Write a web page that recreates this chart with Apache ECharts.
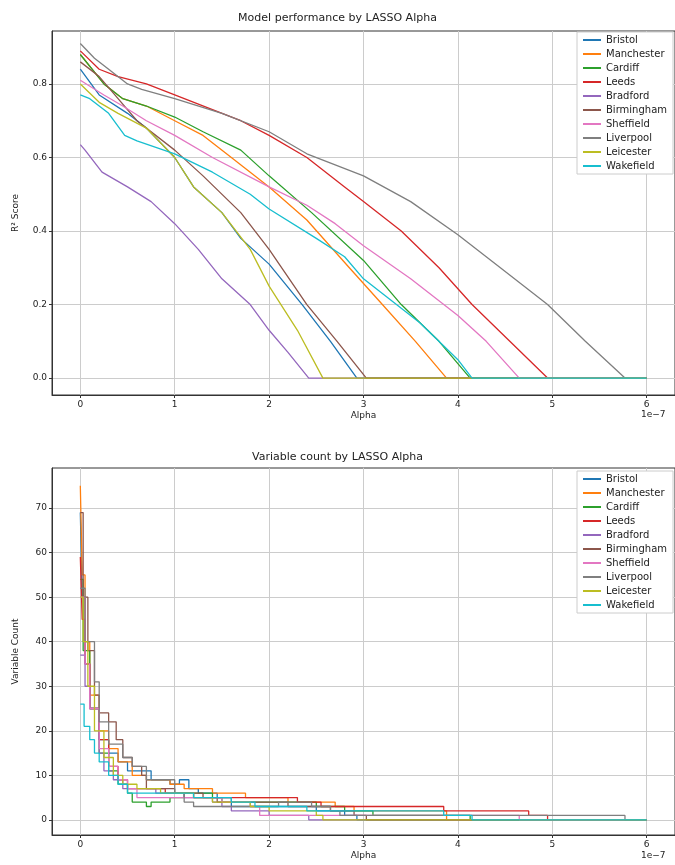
<!DOCTYPE html>
<html><head><meta charset="utf-8">
<script src="https://cdn.jsdelivr.net/npm/echarts@6/dist/echarts.min.js"></script>
<style>html,body{margin:0;padding:0;background:#fff}#c{width:675px;height:865px}</style>
</head><body><div id="c"></div>
<script>
const cities = ['Bristol','Manchester','Cardiff','Leeds','Bradford','Birmingham','Sheffield','Liverpool','Leicester','Wakefield'];
const colors = ['#1f77b4','#ff7f0e','#2ca02c','#d62728','#9467bd','#8c564b','#e377c2','#7f7f7f','#bcbd22','#17becf'];
const xTicks = [0,1,2,3,4,5,6];
const r2Ticks = [0,0.2,0.4,0.6,0.8];
const countTicks = [0,10,20,30,40,50,60,70];

// R^2 score vs alpha (alpha in units of 1e-7)
const r2Bristol = [[0,0.84],[0.2,0.77],[0.5,0.72],[0.7,0.68],[1.0,0.60],[1.2,0.52],[1.5,0.45],[1.7,0.38],[2.0,0.31],[2.35,0.2],[2.65,0.1],[2.93,0],[6,0]];
const r2Manchester = [[0,0.88],[0.25,0.80],[0.45,0.76],[0.7,0.74],[1.0,0.70],[1.3,0.66],[1.6,0.60],[2.0,0.52],[2.4,0.43],[2.85,0.30],[3.2,0.2],[3.55,0.1],[3.88,0],[6,0]];
const r2Cardiff = [[0,0.88],[0.25,0.80],[0.45,0.76],[0.7,0.74],[1.0,0.71],[1.3,0.67],[1.7,0.62],[2.0,0.55],[2.45,0.45],[3.0,0.32],[3.4,0.2],[3.8,0.1],[4.13,0],[6,0]];
const r2Leeds = [[0,0.89],[0.2,0.84],[0.4,0.82],[0.7,0.80],[1.0,0.77],[1.4,0.73],[1.7,0.70],[2.0,0.66],[2.4,0.60],[2.8,0.52],[3.0,0.48],[3.4,0.40],[3.8,0.30],[4.15,0.2],[4.55,0.1],[4.95,0],[6,0]];
const r2Bradford = [[0,0.635],[0.05,0.62],[0.23,0.56],[0.5,0.52],[0.75,0.48],[1.0,0.42],[1.25,0.35],[1.5,0.27],[1.8,0.2],[2.0,0.13],[2.2,0.07],[2.42,0],[6,0]];
const r2Birmingham = [[0,0.86],[0.2,0.82],[0.4,0.76],[0.6,0.70],[1.0,0.62],[1.3,0.55],[1.7,0.45],[2.0,0.35],[2.4,0.2],[2.72,0.1],[3.03,0],[6,0]];
const r2Sheffield = [[0,0.81],[0.25,0.77],[0.45,0.74],[0.7,0.70],[1.0,0.66],[1.4,0.60],[2.0,0.52],[2.4,0.47],[2.7,0.42],[3.0,0.36],[3.5,0.27],[4.0,0.17],[4.3,0.1],[4.65,0],[6,0]];
const r2Liverpool = [[0,0.91],[0.15,0.87],[0.3,0.84],[0.5,0.80],[0.65,0.785],[1.0,0.76],[1.5,0.72],[2.0,0.67],[2.4,0.61],[3.0,0.55],[3.5,0.48],[4.0,0.39],[4.45,0.3],[4.95,0.2],[5.35,0.1],[5.77,0],[6,0]];
const r2Leicester = [[0,0.80],[0.2,0.75],[0.4,0.72],[0.7,0.68],[1.0,0.60],[1.2,0.52],[1.5,0.45],[1.8,0.35],[2.0,0.25],[2.3,0.13],[2.57,0],[6,0]];
const r2Wakefield = [[0,0.77],[0.1,0.76],[0.3,0.72],[0.47,0.66],[0.6,0.645],[1.0,0.61],[1.4,0.56],[1.8,0.50],[2.0,0.46],[2.5,0.38],[2.8,0.33],[3.0,0.27],[3.6,0.15],[4.0,0.05],[4.15,0],[6,0]];

// Variable count vs alpha
const cntBristol = [[0,69],[0.02,50],[0.05,35],[0.1,25],[0.2,18],[0.3,15],[0.4,13],[0.5,11],[0.75,9],[0.95,8],[1.05,9],[1.15,7],[1.25,6],[1.45,5],[1.6,3],[2.0,3],[2.5,2],[2.8,1],[2.93,0],[6,0]];
const cntManchester = [[0,75],[0.02,55],[0.05,40],[0.1,28],[0.2,20],[0.3,16],[0.4,13],[0.55,10],[0.7,9],[0.95,8],[1.1,7],[1.4,6],[1.75,5],[2.2,4],[2.7,3],[2.9,2],[3.88,0],[6,0]];
const cntCardiff = [[0,54],[0.03,38],[0.1,25],[0.2,15],[0.3,11],[0.4,8],[0.5,6],[0.55,4],[0.7,3],[0.75,4],[0.95,5],[1.1,6],[1.4,5],[1.5,4],[2.5,3],[2.8,2],[3.1,1],[4.13,0],[6,0]];
const cntLeeds = [[0,59],[0.02,45],[0.05,35],[0.1,25],[0.2,18],[0.3,12],[0.4,9],[0.5,7],[0.9,6],[1.2,5],[2.3,4],[2.55,3],[3.85,2],[4.75,1],[4.95,0],[6,0]];
const cntBradford = [[0,37],[0.05,30],[0.1,25],[0.2,15],[0.25,11],[0.35,9],[0.45,7],[0.8,6],[1.1,5],[1.4,4],[1.5,3],[1.6,2],[2.0,1],[2.42,0],[6,0]];
const cntBirmingham = [[0,69],[0.03,50],[0.08,38],[0.15,28],[0.2,24],[0.3,22],[0.38,18],[0.45,14],[0.55,12],[0.65,10],[0.7,7],[1.0,6],[1.3,5],[1.45,4],[2.2,3],[2.65,2],[2.9,1],[3.03,0],[6,0]];
const cntSheffield = [[0,50],[0.05,35],[0.1,25],[0.2,16],[0.3,12],[0.4,9],[0.5,7],[0.6,5],[1.5,4],[1.8,3],[1.9,1],[4.65,0],[6,0]];
const cntLiverpool = [[0,52],[0.05,40],[0.15,31],[0.2,22],[0.3,17],[0.45,14],[0.55,12],[0.7,9],[1.0,6],[1.1,4],[1.2,3],[2.1,4],[2.45,3],[2.65,2],[2.75,1],[5.77,0],[6,0]];
const cntLeicester = [[0,50],[0.03,40],[0.08,30],[0.15,20],[0.25,14],[0.35,10],[0.45,8],[0.6,7],[0.85,6],[1.2,5],[1.4,4],[1.8,3],[2.0,2],[2.5,1],[2.57,0],[6,0]];
const cntWakefield = [[0,26],[0.04,21],[0.1,18],[0.15,15],[0.2,13],[0.3,10],[0.4,8],[0.5,6],[1.2,5],[1.6,4],[1.85,3],[2.4,2],[3.85,1],[4.15,0],[6,0]];

const r2Data = [r2Bristol,r2Manchester,r2Cardiff,r2Leeds,r2Bradford,r2Birmingham,r2Sheffield,r2Liverpool,r2Leicester,r2Wakefield];
const cntData = [cntBristol,cntManchester,cntCardiff,cntLeeds,cntBradford,cntBirmingham,cntSheffield,cntLiverpool,cntLeicester,cntWakefield];

const F = 'DejaVu Sans';
function xAxis(gi){
  return {type:'value',gridIndex:gi,min:-0.3,max:6.3,name:'Alpha',nameLocation:'middle',nameGap:16,
    nameTextStyle:{fontFamily:F,fontSize:9,color:'#222'},
    axisLine:{onZero:false,lineStyle:{color:'#333'}},
    axisTick:{customValues:xTicks,length:3,lineStyle:{color:'#333'}},
    axisLabel:{customValues:xTicks,fontFamily:F,fontSize:9,color:'#222',margin:5},
    splitLine:{show:true,lineStyle:{color:'#ccc'}}};
}
function yAxis(gi,min,max,ticks,name){
  return {type:'value',gridIndex:gi,min:min,max:max,name:name,nameLocation:'middle',nameGap:32,
    nameTextStyle:{fontFamily:F,fontSize:9,color:'#222'},
    axisLine:{show:true,onZero:false,lineStyle:{color:'#333'}},
    axisTick:{show:true,customValues:ticks,length:3,lineStyle:{color:'#333'}},
    axisLabel:{customValues:ticks,fontFamily:F,fontSize:9,color:'#222',margin:5,formatter:v=>ticks===r2Ticks?v.toFixed(1):String(v)},
    splitLine:{show:true,lineStyle:{color:'#ccc'}}};
}
const series=[];
cities.forEach((c,i)=>{
  series.push({name:c,type:'line',xAxisIndex:0,yAxisIndex:0,data:r2Data[i],smooth:false,showSymbol:false,symbol:'none',lineStyle:{width:1.3,color:colors[i]},itemStyle:{color:colors[i]}});
});
cities.forEach((c,i)=>{
  series.push({name:c,type:'line',xAxisIndex:1,yAxisIndex:1,data:cntData[i],step:'end',showSymbol:false,symbol:'none',lineStyle:{width:1.3,color:colors[i]},itemStyle:{color:colors[i]}});
});
function legend(top){
  return {orient:'vertical',right:2,top:top,data:cities,icon:'rect',itemWidth:18,itemHeight:2,itemGap:4,
    backgroundColor:'#fff',borderColor:'#ccc',borderWidth:1,padding:[3,6,3,6],
    textStyle:{fontFamily:F,fontSize:10,color:'#222'}};
}
const chart=echarts.init(document.getElementById('c'),null,{renderer:'canvas'});
chart.setOption({
  animation:false,
  color:colors,
  title:[{text:'Model performance by LASSO Alpha',left:'center',top:8,textStyle:{fontFamily:F,fontSize:11,fontWeight:'normal',color:'#222'}},
         {text:'Variable count by LASSO Alpha',left:'center',top:447,textStyle:{fontFamily:F,fontSize:11,fontWeight:'normal',color:'#222'}}],
  legend:[legend(32),legend(471)],
  grid:[{left:52,top:31,height:364,right:-6,containLabel:false,show:true,borderColor:'#333',borderWidth:1},
        {left:52,top:468,height:367,right:-6,containLabel:false,show:true,borderColor:'#333',borderWidth:1}],
  xAxis:[xAxis(0),xAxis(1)],
  yAxis:[yAxis(0,-0.046,0.944,r2Ticks,'R² Score'),yAxis(1,-3.4,79,countTicks,'Variable Count')],
  graphic:[{type:'text',left:641,top:410,style:{text:'1e−7',font:'9px "DejaVu Sans"',fill:'#222'}},
           {type:'text',left:641,top:851,style:{text:'1e−7',font:'9px "DejaVu Sans"',fill:'#222'}}],
  series:series
});
</script></body></html>
